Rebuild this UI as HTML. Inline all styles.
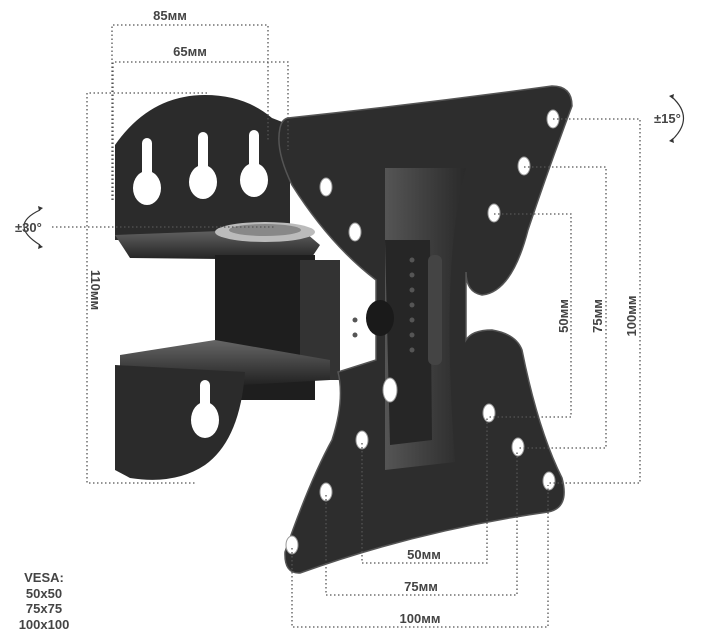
<!DOCTYPE html>
<html><head><meta charset="utf-8"><style>
html,body{margin:0;padding:0;background:#fff;width:701px;height:642px;overflow:hidden}
svg{display:block}
text{font-family:"Liberation Sans",sans-serif;font-weight:bold;fill:#444}
</style></head><body>
<svg width="701" height="642" viewBox="0 0 701 642" xmlns="http://www.w3.org/2000/svg">
<defs>
<linearGradient id="pan" x1="0" y1="0" x2="1" y2="0"><stop offset="0" stop-color="#555"/><stop offset="1" stop-color="#2a2a2a"/></linearGradient>
<linearGradient id="fl" x1="0" y1="0" x2="0" y2="1"><stop offset="0" stop-color="#666"/><stop offset="1" stop-color="#222"/></linearGradient>
</defs>
<!-- wall bracket -->
<g>
<path d="M115,145 Q150,95 205,95 Q245,95 272,118 L290,125 L290,240 L115,240 Z" fill="#2b2b2b"/>
<path d="M115,235 L300,228 L320,245 L310,260 L130,258 Z" fill="url(#fl)"/>
<rect x="215" y="255" width="100" height="145" fill="#1e1e1e"/>
<rect x="300" y="260" width="40" height="120" fill="#333"/>
<path d="M120,355 L215,340 L330,360 L330,380 L240,385 L120,370 Z" fill="url(#fl)"/>
<path d="M115,365 L245,372 Q240,440 205,465 Q175,485 130,478 L115,470 Z" fill="#2b2b2b"/>
<ellipse cx="265" cy="232" rx="50" ry="10" fill="#bbb"/>
<ellipse cx="265" cy="230" rx="36" ry="6" fill="#888"/>
<g fill="#fff">
<rect x="142" y="138" width="10" height="40" rx="5"/><ellipse cx="147" cy="188" rx="14" ry="17"/>
<rect x="198" y="132" width="10" height="40" rx="5"/><ellipse cx="203" cy="182" rx="14" ry="17"/>
<rect x="249" y="130" width="10" height="40" rx="5"/><ellipse cx="254" cy="180" rx="14" ry="17"/>
<rect x="200" y="380" width="10" height="30" rx="5"/><ellipse cx="205" cy="420" rx="14" ry="18"/>
</g>
</g>
<!-- VESA plate -->
<path d="M288,118 Q420,104 552,86 Q572,86 572,106 Q548,170 528,230 Q512,292 482,295 Q466,292 466,272 L466,340 Q472,330 492,330 Q516,334 522,350 Q538,430 562,478 Q570,508 548,512 Q420,530 300,573 Q284,574 285,552 Q310,480 332,440 Q345,400 338,372 L376,360 L376,280 Q330,245 292,185 Q275,150 280,128 Q282,119 288,118 Z" fill="#2d2d2d" stroke="#555" stroke-width="1.5"/>
<path d="M385,168 L466,168 Q440,260 455,462 L385,470 Z" fill="url(#pan)"/>
<path d="M385,240 L430,240 L432,440 L390,445 Z" fill="#262626"/>
<rect x="428" y="255" width="14" height="110" rx="6" fill="#444"/>
<ellipse cx="380" cy="318" rx="14" ry="18" fill="#1a1a1a"/>
<g fill="#555"><circle cx="412" cy="260" r="2.5"/><circle cx="412" cy="275" r="2.5"/><circle cx="412" cy="290" r="2.5"/><circle cx="412" cy="305" r="2.5"/><circle cx="412" cy="320" r="2.5"/><circle cx="412" cy="335" r="2.5"/><circle cx="412" cy="350" r="2.5"/><circle cx="355" cy="320" r="2.5"/><circle cx="355" cy="335" r="2.5"/></g>
<g fill="#fff" stroke="#999" stroke-width="1">
<ellipse cx="553" cy="119" rx="6" ry="9"/><ellipse cx="524" cy="166" rx="6" ry="9"/><ellipse cx="494" cy="213" rx="6" ry="9"/>
<ellipse cx="326" cy="187" rx="6" ry="9"/><ellipse cx="355" cy="232" rx="6" ry="9"/>
<ellipse cx="489" cy="413" rx="6" ry="9"/><ellipse cx="518" cy="447" rx="6" ry="9"/><ellipse cx="549" cy="481" rx="6" ry="9"/>
<ellipse cx="362" cy="440" rx="6" ry="9"/><ellipse cx="326" cy="492" rx="6" ry="9"/><ellipse cx="292" cy="545" rx="6" ry="9"/>
<ellipse cx="390" cy="390" rx="7" ry="12"/>
</g>
<!-- dotted dims -->
<g fill="none" stroke="#555" stroke-width="1.3" stroke-dasharray="1.5,2.5">
<path d="M112,200 L112,25 L268,25 L268,140"/>
<path d="M113,200 L113,62 L288,62 L288,150"/>
<path d="M207,93 L87,93 L87,483 L195,483"/>
<path d="M52,227 L275,227"/>
<path d="M553,119 L640,119 L640,483 L549,483"/>
<path d="M524,167 L606,167 L606,448 L518,448"/>
<path d="M494,214 L571,214 L571,417 L489,417"/>
<path d="M362,443 L362,563 L487,563 L487,416"/>
<path d="M326,495 L326,595 L517,595 L517,450"/>
<path d="M292,548 L292,627 L548,627 L548,485"/>
</g>
<!-- rotation arrows -->
<g fill="none" stroke="#333" stroke-width="1.2">
<path d="M40,210 Q8,225 40,245"/>
<path d="M672,97 Q695,118 672,140"/>
</g>
<g fill="#333"><path d="M43,208 l-5,-2 l1,5z"/><path d="M43,247 l-5,2 l1,-5z"/><path d="M669,96 l5,-2 l-1,5z"/><path d="M669,141 l5,2 l-1,-5z"/></g>
<g font-size="13">
<text x="170" y="20" text-anchor="middle">85мм</text>
<text x="190" y="56" text-anchor="middle">65мм</text>
<text x="15" y="232">±30°</text>
<text x="654" y="123">±15°</text>
<text transform="translate(91,290) rotate(90)" text-anchor="middle">110мм</text>
<text transform="translate(568,316) rotate(-90)" text-anchor="middle">50мм</text>
<text transform="translate(602,316) rotate(-90)" text-anchor="middle">75мм</text>
<text transform="translate(636,316) rotate(-90)" text-anchor="middle">100мм</text>
<text x="424" y="559" text-anchor="middle">50мм</text>
<text x="421" y="591" text-anchor="middle">75мм</text>
<text x="420" y="623" text-anchor="middle">100мм</text>
<text x="44" y="582" text-anchor="middle" fill="#555">VESA:</text>
<text x="44" y="598" text-anchor="middle" fill="#111">50x50</text>
<text x="44" y="613" text-anchor="middle" fill="#111">75x75</text>
<text x="44" y="629" text-anchor="middle" fill="#111">100x100</text>
</g>
</svg>
</body></html>
